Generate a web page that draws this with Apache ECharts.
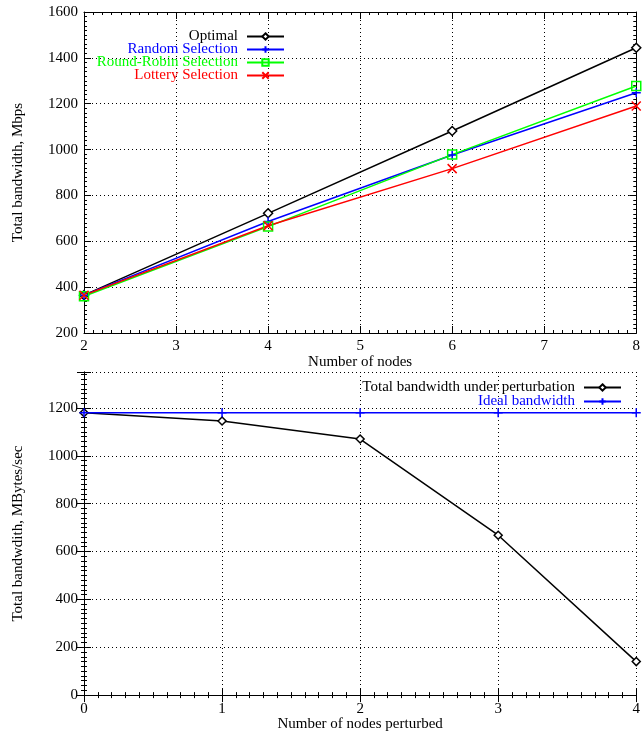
<!DOCTYPE html>
<html>
<head>
<meta charset="utf-8">
<script src="https://cdn.jsdelivr.net/npm/echarts@6/dist/echarts.min.js"></script>
<style>
  html, body { margin: 0; padding: 0; background: #fff; }
  #chart { width: 643px; height: 733px; }
</style>
</head>
<body>
<div id="chart"></div>
<script>
// top plot: bandwidth vs number of nodes
const nodes = [2, 4, 6, 8];
const optimal = [365, 722, 1081, 1444];
const randomSel = [365, 686, 976, 1248];
const roundRobin = [360, 664, 978, 1277];
const lottery = [365, 668, 917, 1190];

// bottom plot: bandwidth vs perturbed nodes
const perturbedNodes = [0, 1, 2, 3, 4];
const underPerturbation = [1180, 1145, 1070, 668, 140];
const idealBandwidth = [1180, 1180, 1180, 1180, 1180];

const FONT = '"Liberation Serif", "DejaVu Serif", serif';
const PLUS = 'path://M5,0L5,10M0,5L10,5';
const CROSS = 'path://M0,0L10,10M10,0L0,10';

function pairs(xs, ys) {
  return xs.map((x, i) => [x, ys[i]]);
}

const dotted = { show: true, lineStyle: { color: '#000', width: 1, type: [1, 3] } };
const frameLine = { show: true, lineStyle: { color: '#000', width: 1 } };
const tick = { show: true, inside: true, length: 7, lineStyle: { color: '#000' } };
const minor = { show: true, splitNumber: 10, length: 3, lineStyle: { color: '#000' } };
const label = { color: '#000', fontFamily: FONT, fontSize: 15 };

// main axis + mirrored axis (gnuplot style frame with ticks on all sides)
function xAxes(grid, min, max, interval, name) {
  return [
    {
      type: 'value', gridIndex: grid, min: min, max: max, interval: interval,
      name: name, nameLocation: 'middle', nameGap: 20,
      nameTextStyle: { color: '#000', fontFamily: FONT, fontSize: 15 },
      axisLine: frameLine, axisTick: tick, minorTick: minor,
      axisLabel: Object.assign({ margin: 6 }, label),
      splitLine: dotted
    },
    {
      type: 'value', gridIndex: grid, position: 'top', min: min, max: max, interval: interval,
      axisLine: frameLine, axisTick: tick, minorTick: minor,
      axisLabel: { show: false }, splitLine: { show: false }
    }
  ];
}

function yAxes(grid, min, max, interval, name) {
  return [
    {
      type: 'value', gridIndex: grid, min: min, max: max, interval: interval,
      name: name, nameLocation: 'middle', nameGap: 58, nameRotate: 90,
      nameTextStyle: { color: '#000', fontFamily: FONT, fontSize: 15 },
      axisLine: frameLine, axisTick: tick, minorTick: minor,
      axisLabel: Object.assign({
        margin: 6,
        formatter: v => (v % interval === 0 ? String(v) : '')
      }, label),
      splitLine: dotted
    },
    {
      type: 'value', gridIndex: grid, position: 'right', min: min, max: max, interval: interval,
      axisLine: frameLine, axisTick: tick, minorTick: minor,
      axisLabel: { show: false }, splitLine: { show: false }
    }
  ];
}

function lineSeries(name, data, axis, color, symbol, size, fill) {
  return {
    name: name, type: 'line', data: data,
    xAxisIndex: axis, yAxisIndex: axis,
    symbol: symbol, symbolSize: size, showAllSymbol: true, clip: false,
    lineStyle: { color: color, width: 1.5 },
    itemStyle: { color: fill || color, borderColor: color, borderWidth: 1.5 },
    emphasis: { disabled: true },
    z: 3
  };
}

const option = {
  animation: false,
  backgroundColor: '#fff',
  textStyle: { fontFamily: FONT },
  grid: [
    { left: 84, right: 2, top: 12, height: 321 },
    { left: 84, right: 2, top: 372, height: 325 }
  ],
  xAxis: [].concat(
    xAxes(0, 2, 8, 1, 'Number of nodes'),
    xAxes(1, 0, 4, 1, 'Number of nodes perturbed')
  ),
  yAxis: [].concat(
    yAxes(0, 200, 1600, 200, 'Total bandwidth, Mbps'),
    yAxes(1, 0, 1350, 200, 'Total bandwdith, MBytes/sec')
  ),
  legend: [
    {
      orient: 'vertical', align: 'right', right: 353, top: 24,
      itemWidth: 37, itemHeight: 8, itemGap: -2,
      textStyle: { fontFamily: FONT, fontSize: 15, lineHeight: 13, padding: [0, 4, 0, 0] },
      data: [
        { name: 'Optimal', textStyle: { color: '#000' } },
        { name: 'Random Selection', textStyle: { color: '#0000ff' } },
        { name: 'Round-Robin Selection', textStyle: { color: '#00ff00' } },
        { name: 'Lottery Selection', textStyle: { color: '#ff0000' } }
      ]
    },
    {
      orient: 'vertical', align: 'right', right: 16, top: 375,
      itemWidth: 37, itemHeight: 8, itemGap: -1,
      textStyle: { fontFamily: FONT, fontSize: 15, lineHeight: 13, padding: [0, 4, 0, 0] },
      data: [
        { name: 'Total bandwidth under perturbation', textStyle: { color: '#000' } },
        { name: 'Ideal bandwidth', textStyle: { color: '#0000ff' } }
      ]
    }
  ],
  series: [
    lineSeries('Optimal', pairs(nodes, optimal), 0, '#000', 'diamond', 9, '#fff'),
    lineSeries('Random Selection', pairs(nodes, randomSel), 0, '#0000ff', PLUS, 9),
    lineSeries('Round-Robin Selection', pairs(nodes, roundRobin), 0, '#00ff00', 'rect', 9, 'rgba(0,0,0,0)'),
    lineSeries('Lottery Selection', pairs(nodes, lottery), 0, '#ff0000', CROSS, 9),
    lineSeries('Total bandwidth under perturbation', pairs(perturbedNodes, underPerturbation), 2, '#000', 'diamond', 8, '#fff'),
    lineSeries('Ideal bandwidth', pairs(perturbedNodes, idealBandwidth), 2, '#0000ff', PLUS, 9)
  ]
};

const chart = echarts.init(document.getElementById('chart'));
chart.setOption(option);
</script>
</body>
</html>
